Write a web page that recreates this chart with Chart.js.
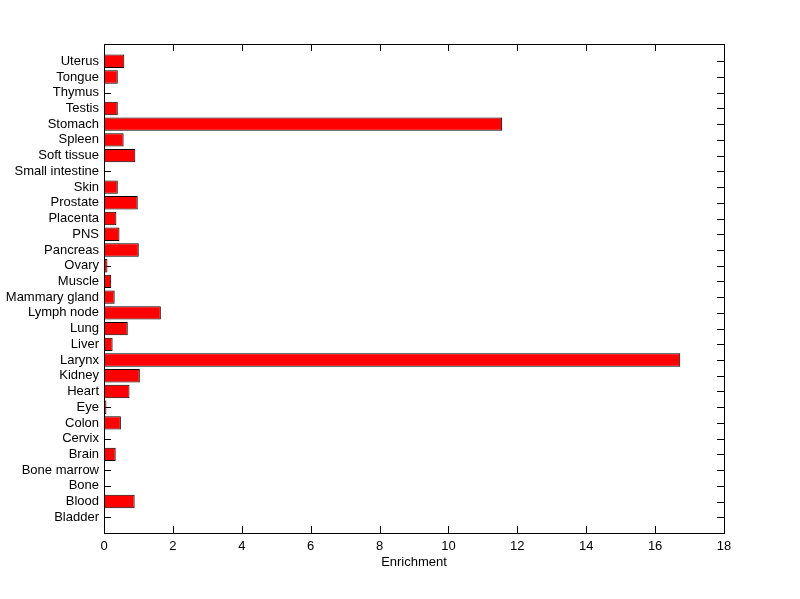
<!DOCTYPE html>
<html>
<head>
<meta charset="utf-8">
<script src="https://cdn.jsdelivr.net/npm/chart.js@4"></script>
<style>
    html, body { margin: 0; padding: 0; background: #fff; }
    #wrap { width: 800px; height: 599px; }
</style>
</head>
<body>
<div id="wrap"><canvas id="enrichChart" width="800" height="599"></canvas></div>
<script>
// tissues, bottom to top (position 1..30 on the y axis)
const tissues = ['Bladder', 'Blood', 'Bone', 'Bone marrow', 'Brain', 'Cervix', 'Colon', 'Eye', 'Heart', 'Kidney',
    'Larynx', 'Liver', 'Lung', 'Lymph node', 'Mammary gland', 'Muscle', 'Ovary', 'Pancreas', 'PNS', 'Placenta',
    'Prostate', 'Skin', 'Small intestine', 'Soft tissue', 'Spleen', 'Stomach', 'Testis', 'Thymus', 'Tongue', 'Uterus'];
const enrichment = [0, 0.89, 0, 0, 0.34, 0, 0.49, 0.07, 0.74, 1.04,
    16.73, 0.25, 0.69, 1.65, 0.31, 0.21, 0.10, 1.01, 0.45, 0.36,
    0.98, 0.40, 0, 0.91, 0.57, 11.56, 0.40, 0, 0.40, 0.59];
const xTicks = [0, 2, 4, 6, 8, 10, 12, 14, 16, 18];

const font = { family: 'Liberation Sans, Arial, sans-serif', size: 13 };

// matlab style inward ticks on all four sides (under the bars), box on top
const boxTicks = {
    id: 'boxTicks',
    beforeDatasetsDraw(chart) {
        const { ctx, chartArea: a, scales } = chart;
        const len = 7;
        ctx.save();
        ctx.strokeStyle = '#000';
        ctx.lineWidth = 1;
        ctx.beginPath();
        tissues.forEach((t, i) => {
            const y = Math.round(scales.y.getPixelForValue(i + 1)) + 0.5;
            ctx.moveTo(a.left, y); ctx.lineTo(a.left + len, y);
            ctx.moveTo(a.right, y); ctx.lineTo(a.right - len, y);
        });
        xTicks.forEach(v => {
            const x = Math.round(scales.x.getPixelForValue(v)) + 0.5;
            ctx.moveTo(x, a.bottom); ctx.lineTo(x, a.bottom - len);
            ctx.moveTo(x, a.top); ctx.lineTo(x, a.top + len);
        });
        ctx.stroke();
        ctx.restore();
    },
    afterDraw(chart) {
        const { ctx, chartArea: a } = chart;
        ctx.save();
        ctx.strokeStyle = '#000';
        ctx.lineWidth = 1;
        ctx.strokeRect(Math.round(a.left) + 0.5, Math.round(a.top) + 0.5,
            Math.round(a.right - a.left), Math.round(a.bottom - a.top));
        ctx.restore();
    }
};

new Chart(document.getElementById('enrichChart'), {
    type: 'bar',
    data: {
        datasets: [{
            data: enrichment.map((v, i) => ({ x: v, y: i + 1 })),
            backgroundColor: '#ff0000',
            borderColor: '#000000',
            borderWidth: 1,
            borderSkipped: false,
            barPercentage: 0.85,
            categoryPercentage: 1
        }]
    },
    options: {
        indexAxis: 'y',
        responsive: false,
        animation: false,
        layout: { padding: { left: 0, top: 44, right: 76, bottom: 0 } },
        plugins: { legend: { display: false }, tooltip: { enabled: false } },
        scales: {
            x: {
                type: 'linear',
                min: 0,
                max: 18,
                afterBuildTicks: (s) => { s.ticks = xTicks.map(v => ({ value: v })); },
                afterFit: (s) => { s.height = 66; },
                grid: { display: false, drawTicks: false },
                border: { display: false },
                ticks: { color: '#000', font, padding: 6, maxRotation: 0 },
                title: { display: true, text: 'Enrichment', color: '#000', font, padding: { top: 0, bottom: 29 } }
            },
            y: {
                type: 'linear',
                min: 0,
                max: 31.1,
                offset: false,
                afterBuildTicks: (s) => { s.ticks = tissues.map((t, i) => ({ value: i + 1 })); },
                afterFit: (s) => { s.width = 104; },
                grid: { display: false, drawTicks: false, offset: false },
                border: { display: false },
                ticks: {
                    color: '#000',
                    font,
                    padding: 5,
                    autoSkip: false,
                    callback: (v) => tissues[v - 1] || ''
                }
            }
        }
    },
    plugins: [boxTicks]
});
</script>
</body>
</html>
